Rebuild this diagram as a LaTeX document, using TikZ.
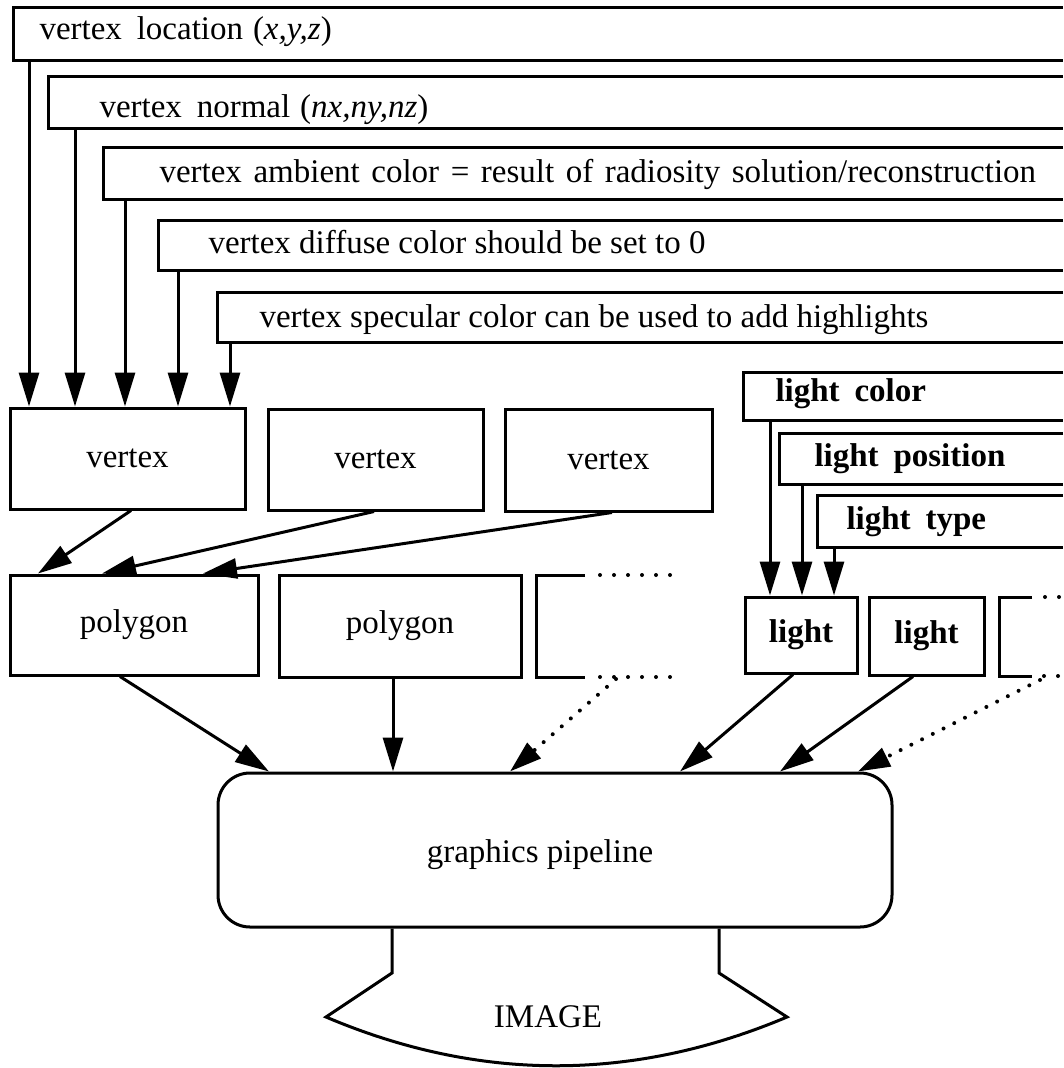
\documentclass[tikz,border=0pt]{standalone}
\usepackage{fontspec}
\setmainfont{Liberation Serif}
\usetikzlibrary{arrows.meta,calc}
\begin{document}
\begin{tikzpicture}[x=1pt,y=-1pt,line width=3pt,
  arr/.style={-{Triangle[length=34pt,width=20pt]}},
  dotarr/.style={line width=4pt,line cap=round,dash pattern=on 0pt off 12pt,-{Triangle[length=32pt,width=20pt,line cap=butt]}},
  dots/.style={line width=4pt,line cap=round,dash pattern=on 0pt off 14pt},
  big/.style={font=\fontsize{33}{40}\selectfont},
  box/.style={draw,line width=3pt,inner sep=0pt,big},
  lbl/.style={big,inner sep=0pt,anchor=base west},
  blbl/.style={lbl,font=\fontsize{33}{40}\selectfont\bfseries}]
\useasboundingbox (0,0) rectangle (1063,1068);

% ---- top attribute boxes (open to the right) ----
\draw (1063,7) -| (13,60) -- (1063,60);
\node[lbl] (t1) at (38,39) {vertex\hspace{0.45em}location\hspace{0.3em}(\textit{x,y,z})};
\draw (1063,76) -| (48,128) -- (1063,128);
\node[lbl] (t2) at (98,117) {vertex\hspace{0.45em}normal\hspace{0.3em}(\textit{nx,ny,nz})};
\draw (1063,147) -| (103,199) -- (1063,199);
\node[lbl] (t3) at (158,182) {vertex\hspace{0.35em}ambient\hspace{0.35em}color\hspace{0.35em}=\hspace{0.35em}result\hspace{0.35em}of\hspace{0.35em}radiosity\hspace{0.35em}solution/reconstruction};
\draw (1063,220) -| (158,270) -- (1063,270);
\node[lbl] (t4) at (207,253) {vertex diffuse color should be set to 0};
\draw (1063,292) -| (217,342) -- (1063,342);
\node[lbl] (t5) at (258,327) {vertex specular color can be used to add highlights};

\coordinate (b1) at (29,60);
\coordinate (b2) at (75,128);
\coordinate (b3) at (125,199);
\coordinate (b4) at (178,270);
\coordinate (b5) at (230,342);

% ---- light attribute boxes ----
\draw (1063,372) -| (743,420) -- (1063,420);
\node[blbl] (lc) at (774,401) {light\hspace{0.45em}color};
\draw (1063,433) -| (779,484) -- (1063,484);
\node[blbl] (lp) at (813,466) {light\hspace{0.45em}position};
\draw (1063,495) -| (817,547) -- (1063,547);
\node[blbl] (lt) at (845,529) {light\hspace{0.45em}type};

\coordinate (c1) at (770,420);
\coordinate (c2) at (802,484);
\coordinate (c3) at (834,547);

% ---- vertex boxes ----
\node[box,minimum width=235pt,minimum height=101pt] (v1) at (127.5,458.5) {vertex};
\node[box,minimum width=215pt,minimum height=101pt] (v2) at (375.5,459.5) {vertex};
\node[box,minimum width=207pt,minimum height=102pt] (v3) at (608.5,460) {vertex};

% ---- polygon boxes ----
\node[box,minimum width=248pt,minimum height=100pt] (p1) at (134,625) {polygon};
\node[box,minimum width=242pt,minimum height=102pt] (p2) at (400,626) {polygon};
\draw (585,575) -- (536,575) -- (536,677) -- (585,677);
\draw[dots] (600,575) -- (672,575);
\draw[dots] (600,677) -- (672,677);
\coordinate (p3) at (616,679);

% ---- light boxes ----
\node[box,minimum width=112pt,minimum height=76pt,font=\fontsize{33}{40}\selectfont\bfseries] (l1) at (801,635) {light};
\node[box,minimum width=115pt,minimum height=78pt,font=\fontsize{33}{40}\selectfont\bfseries] (l2) at (926.5,636) {light};
\draw (1032,597) -- (999,597) -- (999,676) -- (1032,676);
\draw[dots] (1045,597) -- (1063,597);
\draw[dots] (1044,676) -- (1063,676);
\coordinate (l3) at (1040,680);

% ---- pipeline ----
\node[draw,rounded corners=32pt,minimum width=674pt,minimum height=154pt] (gp) at (555,850) {};
\node[big] (gpl) at (540,855) {graphics pipeline};

% ---- image ----
\draw ([xshift=-163pt]gp.south) -- (392,973) -- (326,1017)
  .. controls (479,1082) and (633,1082) .. (787,1017) -- (719,973) -- ([xshift=164pt]gp.south);
\node[big] (img) at (548,1017) {IMAGE};

% ---- arrows: attributes -> vertex ----
\foreach \c in {b1,b2,b3,b4,b5} \draw[arr] (\c) -- (\c |- v1.north);
% ---- arrows: light attributes -> light ----
\foreach \c in {c1,c2,c3} \draw[arr] (\c) -- (\c |- l1.north);

% ---- vertex -> polygon ----
\draw[arr] ([xshift=3.5pt]v1.south) -- ([xshift=-96pt]p1.north);
\draw[arr] ([xshift=-1.5pt]v2.south) -- ([xshift=-32pt]p1.north);
\draw[arr] ([xshift=3.5pt]v3.south) -- ([xshift=69pt]p1.north);

% ---- into pipeline ----
\draw[arr] ([xshift=-14pt]p1.south) -- ([xshift=-286pt]gp.north);
\draw[arr] ([xshift=-7pt]p2.south) -- ([xshift=-162pt]gp.north);
\draw[dotarr] (p3) -- ([xshift=-45pt]gp.north);
\draw[arr] ([xshift=-8pt]l1.south) -- ([xshift=125pt]gp.north);
\draw[arr] ([xshift=-13.5pt]l2.south) -- ([xshift=225pt]gp.north);
\draw[dotarr] (l3) -- ([xshift=303pt]gp.north);
\end{tikzpicture}
\end{document}
